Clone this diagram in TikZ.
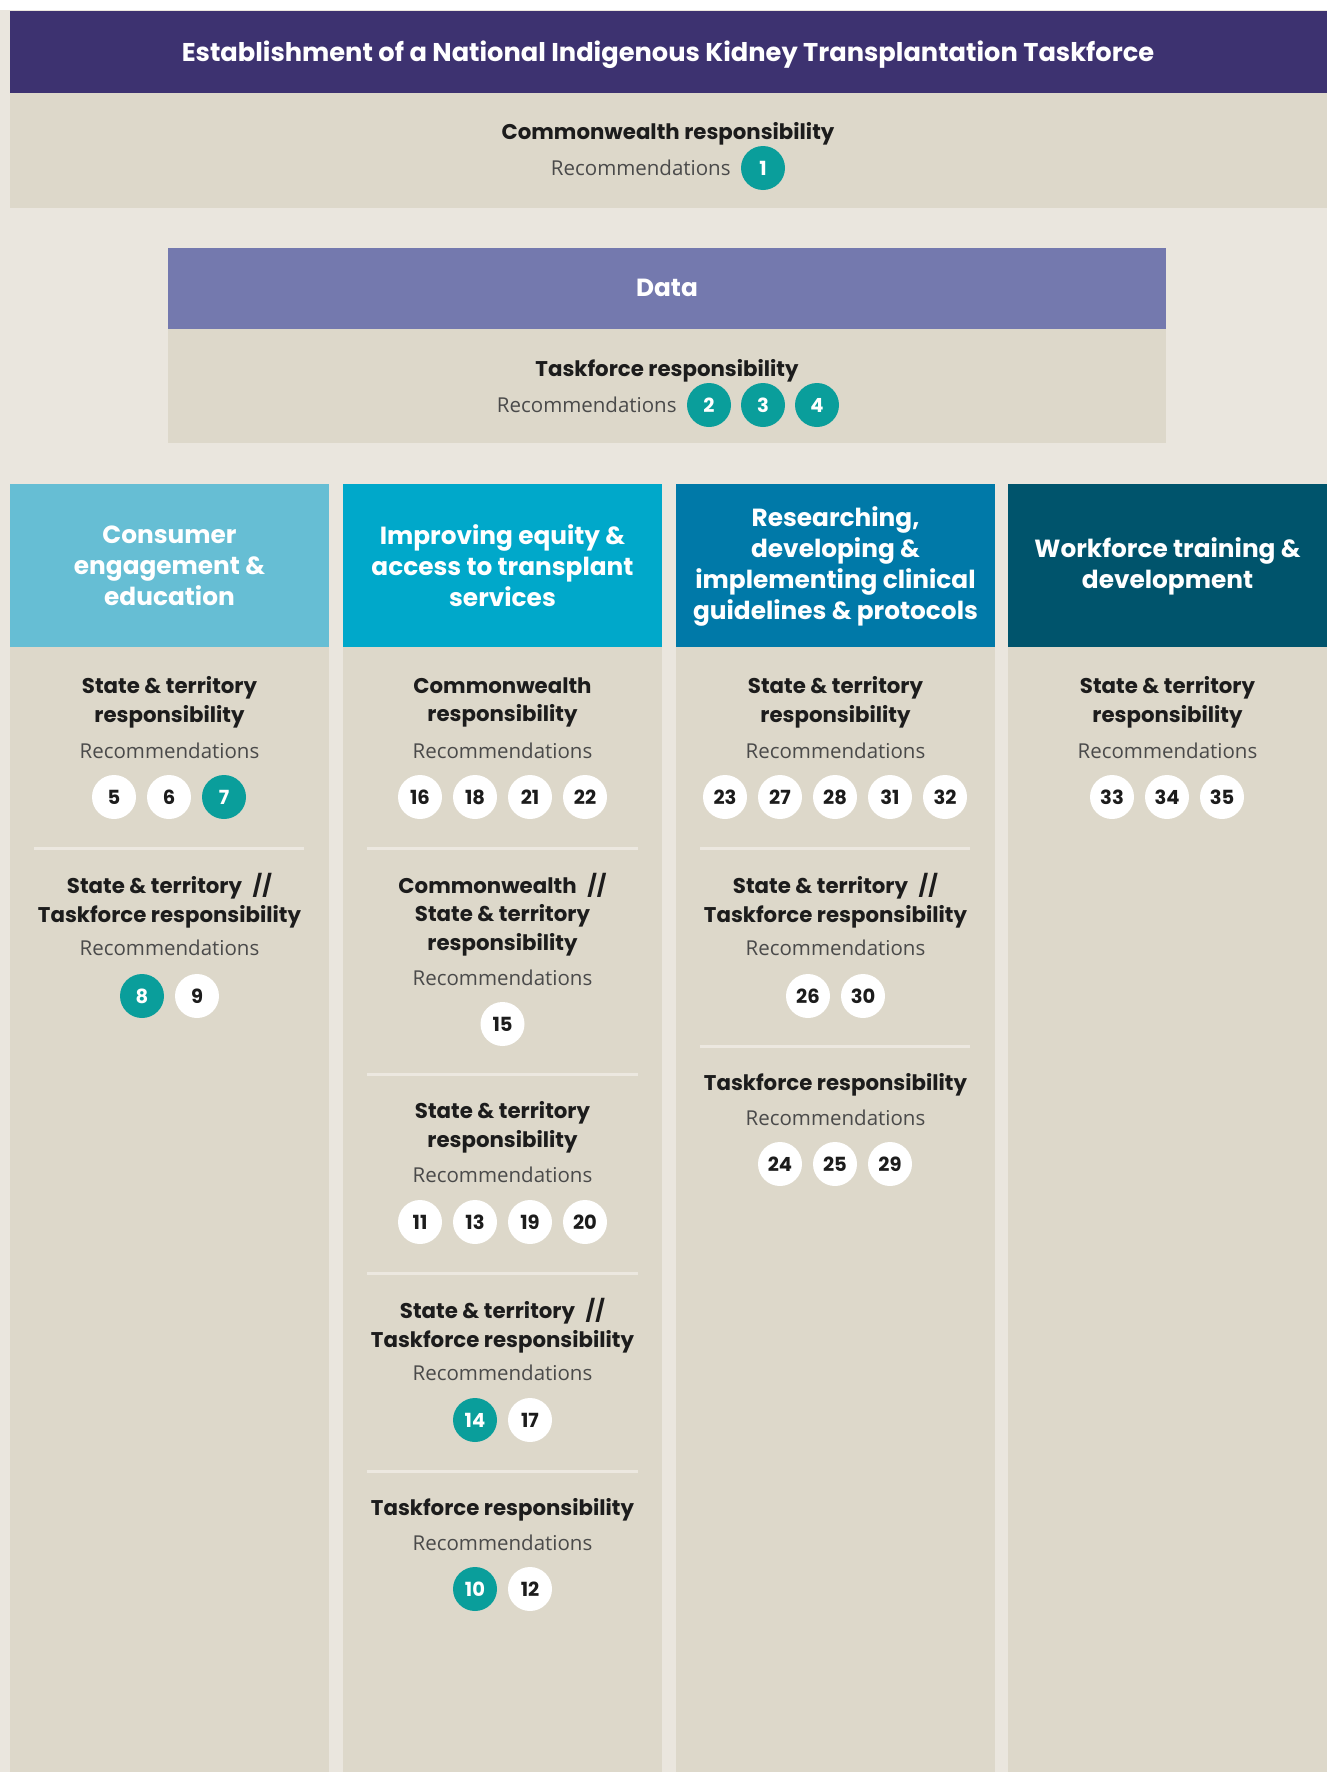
\documentclass[tikz,border=0pt]{standalone}
\usepackage{fontspec}
\setmainfont{Poppins}
\newfontfamily\recfont{Open Sans}
\definecolor{bgbeige}{HTML}{EAE6DE}
\definecolor{panel}{HTML}{DDD8CA}
\definecolor{toppurple}{HTML}{3D3270}
\definecolor{datapurple}{HTML}{7479AE}
\definecolor{hcolA}{HTML}{66BED4}
\definecolor{hcolB}{HTML}{00A8CA}
\definecolor{hcolC}{HTML}{0079A8}
\definecolor{hcolD}{HTML}{00546C}
\definecolor{tealc}{HTML}{0A9E9B}
\definecolor{textdark}{HTML}{1C1C1C}
\definecolor{recgray}{HTML}{4A4A4A}
\definecolor{sepcol}{HTML}{ECE8E0}
\begin{document}
\begin{tikzpicture}[x=1pt,y=-1pt,
  head/.style={text=white, font=\fontsize{24.8}{31}\selectfont\bfseries, align=center, inner sep=0pt, yshift=-1pt},
  sub/.style={text=textdark, font=\fontsize{21.3}{28.5}\selectfont\bfseries, align=center, inner sep=0pt, yshift=-3.5pt},
  rec/.style={text=recgray, font=\recfont\fontsize{20.5}{24}\selectfont, inner sep=0pt},
  numw/.style={circle, fill=white, minimum size=44pt, inner sep=0pt, text=textdark, font=\fontsize{19.5}{19.5}\selectfont\bfseries},
  numt/.style={numw, fill=tealc, text=white},
  sepline/.style={draw=sepcol, line width=3pt}]
\useasboundingbox (0,0) rectangle (1327,1772);
\fill[bgbeige] (0,0) rectangle (1327,1772);
\fill[white] (0,0) rectangle (1327,10);
% top band
\fill[toppurple] (10,11) rectangle (1327,93);
\fill[panel] (10,93) rectangle (1327,208);
\node[head, font=\fontsize{25.7}{31}\selectfont\bfseries, yshift=-2.5pt] (title) at (668,51) {Establishment of a National Indigenous Kidney Transplantation Taskforce};
\node[sub] (topsub) at (668,130) {Commonwealth responsibility};
\node[numt] (c1) at (763,168) {1};
\node[rec, anchor=east] (rectop) at ([xshift=-10pt]c1.west) {Recommendations};
% data band
\fill[datapurple] (168,248) rectangle (1166,329);
\fill[panel] (168,329) rectangle (1166,443);
\node[head] (data) at (667,287) {Data};
\node[sub] (datasub) at (667,367) {Taskforce responsibility};
\node[numt] (c2) at (709,405) {2};
\node[numt] (c3) at (763,405) {3};
\node[numt] (c4) at (817,405) {4};
\node[rec, anchor=east] (recdata) at ([xshift=-10pt]c2.west) {Recommendations};
% columns
\fill[hcolA] (10,484) rectangle (329,647);
\fill[hcolB] (343,484) rectangle (662,647);
\fill[hcolC] (676,484) rectangle (995,647);
\fill[hcolD] (1008,484) rectangle (1327,647);
\fill[panel] (10,647) rectangle (329,1772);
\fill[panel] (343,647) rectangle (662,1772);
\fill[panel] (676,647) rectangle (995,1772);
\fill[panel] (1008,647) rectangle (1327,1772);
\node[head] (hA) at (169.5,565) {Consumer\\engagement \&\\education};
\node[head] (hB) at (502.5,565) {Improving equity \&\\access to transplant\\services};
\node[head] (hC) at (835.5,565) {Researching,\\developing \&\\implementing clinical\\guidelines \& protocols};
\node[head] (hD) at (1167.5,565) {Workforce training \&\\development};
% ---------- column A
\node[sub] (a1) at (169.5,699) {State \& territory\\responsibility};
\node[rec] (ar1) at (169.5,751) {Recommendations};
\node[numw] (c5) at (114,797) {5};
\node[numw] (c6) at (169,797) {6};
\node[numt] (c7) at (224,797) {7};
\coordinate (as1l) at (34,848); \coordinate (as1r) at (304,848);
\draw[sepline] (as1l) -- (as1r);
\node[sub] (a2) at (169.5,897) {State \& territory\enspace//\\Taskforce responsibility};
\node[rec] (ar2) at (169.5,948) {Recommendations};
\node[numt] (c8) at (142,996) {8};
\node[numw] (c9) at (197,996) {9};
% ---------- column B
\node[sub] (b1) at (502.5,699) {Commonwealth\\responsibility};
\node[rec] (br1) at (502.5,751) {Recommendations};
\node[numw] (c16) at (420,797) {16};
\node[numw] (c18) at (475,797) {18};
\node[numw] (c21) at (530,797) {21};
\node[numw] (c22) at (585,797) {22};
\coordinate (bs1l) at (367,848); \coordinate (bs1r) at (638,848);
\draw[sepline] (bs1l) -- (bs1r);
\node[sub] (b2) at (502.5,911) {Commonwealth\enspace//\\State \& territory\\responsibility};
\node[rec] (br2) at (502.5,978) {Recommendations};
\node[numw] (c15) at (502.5,1024) {15};
\coordinate (bs2l) at (367,1074); \coordinate (bs2r) at (638,1074);
\draw[sepline] (bs2l) -- (bs2r);
\node[sub] (b3) at (502.5,1124) {State \& territory\\responsibility};
\node[rec] (br3) at (502.5,1175) {Recommendations};
\node[numw] (c11) at (420,1222) {11};
\node[numw] (c13) at (475,1222) {13};
\node[numw] (c19) at (530,1222) {19};
\node[numw] (c20) at (585,1222) {20};
\coordinate (bs3l) at (367,1273); \coordinate (bs3r) at (638,1273);
\draw[sepline] (bs3l) -- (bs3r);
\node[sub] (b4) at (502.5,1322) {State \& territory\enspace//\\Taskforce responsibility};
\node[rec] (br4) at (502.5,1373) {Recommendations};
\node[numt] (c14) at (475,1420) {14};
\node[numw] (c17) at (530,1420) {17};
\coordinate (bs4l) at (367,1471); \coordinate (bs4r) at (638,1471);
\draw[sepline] (bs4l) -- (bs4r);
\node[sub] (b5) at (502.5,1506) {Taskforce responsibility};
\node[rec] (br5) at (502.5,1543) {Recommendations};
\node[numt] (c10) at (475,1589) {10};
\node[numw] (c12) at (530,1589) {12};
% ---------- column C
\node[sub] (cc1) at (835.5,699) {State \& territory\\responsibility};
\node[rec] (cr1) at (835.5,751) {Recommendations};
\node[numw] (c23) at (725,797) {23};
\node[numw] (c27) at (780,797) {27};
\node[numw] (c28) at (835,797) {28};
\node[numw] (c31) at (890,797) {31};
\node[numw] (c32) at (945,797) {32};
\coordinate (cs1l) at (700,848); \coordinate (cs1r) at (970,848);
\draw[sepline] (cs1l) -- (cs1r);
\node[sub] (cc2) at (835.5,897) {State \& territory\enspace//\\Taskforce responsibility};
\node[rec] (cr2) at (835.5,948) {Recommendations};
\node[numw] (c26) at (808,996) {26};
\node[numw] (c30) at (863,996) {30};
\coordinate (cs2l) at (700,1046); \coordinate (cs2r) at (970,1046);
\draw[sepline] (cs2l) -- (cs2r);
\node[sub] (cc3) at (835.5,1081) {Taskforce responsibility};
\node[rec] (cr3) at (835.5,1118) {Recommendations};
\node[numw] (c24) at (780,1164) {24};
\node[numw] (c25) at (835,1164) {25};
\node[numw] (c29) at (890,1164) {29};
% ---------- column D
\node[sub] (d1) at (1167.5,699) {State \& territory\\responsibility};
\node[rec] (dr1) at (1167.5,751) {Recommendations};
\node[numw] (c33) at (1112,797) {33};
\node[numw] (c34) at (1167,797) {34};
\node[numw] (c35) at (1222,797) {35};
\end{tikzpicture}
\end{document}
